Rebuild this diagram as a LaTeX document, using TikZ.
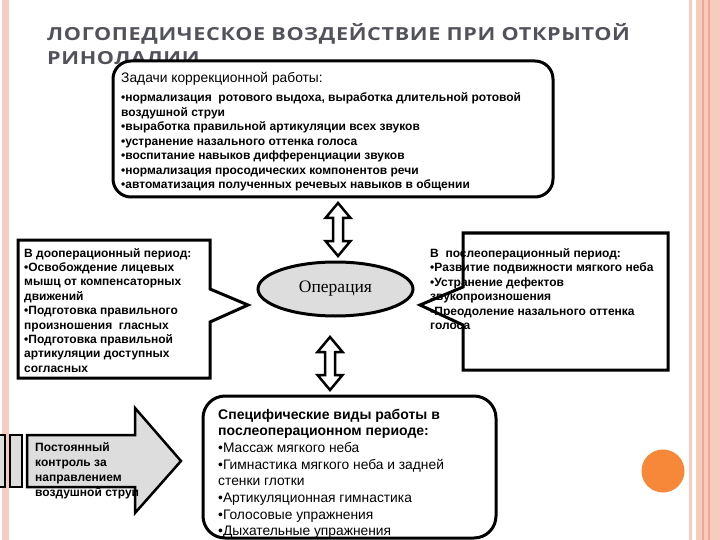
\documentclass[tikz,border=0pt]{standalone}
\usepackage{fontspec}
\setmainfont{Liberation Sans}
\newfontfamily\titlefont[LetterSpace=3]{Open Sans}
\newfontfamily\serifface{Liberation Serif}
\usetikzlibrary{shapes.geometric}
\definecolor{stripe}{RGB}{246,204,190}
\definecolor{stripedark}{RGB}{238,168,148}
\definecolor{titlegray}{RGB}{82,82,90}
\definecolor{dotorange}{RGB}{247,136,58}
\definecolor{fillgray}{RGB}{221,221,221}
\begin{document}
\begin{tikzpicture}[x=1pt,y=-1pt,
  heavy/.style={draw=black,line width=3pt,line join=miter},
  boldtxt/.style={font=\fontsize{12}{13}\selectfont\bfseries,inner sep=0pt,anchor=base west},
  regtxt/.style={font=\fontsize{13.8}{15}\selectfont,inner sep=0pt,anchor=base west},
  bigbold/.style={font=\fontsize{14}{15}\selectfont\bfseries,inner sep=0pt,anchor=base west},
  titletxt/.style={font=\titlefont\fontsize{18}{20}\selectfont\bfseries,text=titlegray,inner sep=0pt,anchor=base west}]
\useasboundingbox (0,0) rectangle (720,540);
\fill[white] (0,0) rectangle (720,540);
% decorative stripes
\fill[stripe] (2,0) rectangle (9,540);
\fill[stripe] (689,0) rectangle (692,540);
\fill[stripe] (696,0) rectangle (720,540);
\fill[stripedark] (702,0) rectangle (703.5,540);
\fill[stripedark] (708,0) rectangle (710,540);
\fill[dotorange] (663,471) circle (21.5);
% title
\node[titletxt] (title1) at (47,40.5) {\scalebox{1.2}[1]{ЛОГОПЕДИЧЕСКОЕ ВОЗДЕЙСТВИЕ ПРИ ОТКРЫТОЙ}};
\node[titletxt] (title2) at (47,64.5) {\scalebox{1.2}[1]{РИНОЛАЛИИ}};
% top box
\draw[heavy,fill=white,rounded corners=18pt] (113,61) rectangle (553,197);
\node[regtxt] (tasks0) at (121,82.5) {Задачи коррекционной работы:};
\foreach \t [count=\i] in {{•нормализация\ \ ротового выдоха, выработка длительной ротовой},
  {воздушной струи},{•выработка правильной артикуляции всех звуков},
  {•устранение назального оттенка голоса},{•воспитание навыков дифференциации звуков},
  {•нормализация просодических компонентов речи},{•автоматизация полученных речевых навыков в общении}}
  \node[boldtxt] (tasks\i) at (121,87.5+14.5*\i) {\t};
% ellipse
\node[ellipse,heavy,fill=fillgray,minimum width=155pt,minimum height=54pt,
  font=\serifface\fontsize{17.5}{20}\selectfont] (op) at (335.5,289) {Операция};
% double arrows
\draw[draw=black,line width=2.5pt,fill=white,line join=miter]
  (338,203) -- (350.5,218) -- (343,218) -- (343,241) -- (350.5,241) -- (338,256)
  -- (325.5,241) -- (333,241) -- (333,218) -- (325.5,218) -- cycle;
\draw[draw=black,line width=2.5pt,fill=white,line join=miter]
  (330,337) -- (342.5,352) -- (335,352) -- (335,375) -- (342.5,375) -- (330,390)
  -- (317.5,375) -- (325,375) -- (325,352) -- (317.5,352) -- cycle;
% left callout
\draw[heavy,fill=white] (18,240) -- (210,240) -- (210,289) -- (248,305) -- (210,322)
  -- (210,378) -- (18,378) -- cycle;
\foreach \t [count=\i] in {{В дооперационный период:},{•Освобождение лицевых},
  {мышц от компенсаторных},{движений},{•Подготовка правильного},
  {произношения\ \ гласных},{•Подготовка правильной},{артикуляции доступных},{согласных}}
  \node[boldtxt] (pre\i) at (24,242.6+14.4*\i) {\t};
% right callout
\draw[heavy,fill=white] (463,233) -- (668,233) -- (668,370) -- (463,370) -- (463,325)
  -- (420,305) -- (463,287) -- cycle;
\foreach \t [count=\i] in {{В\ \ послеоперационный период:},{•Развитие подвижности мягкого неба},
  {•Устранение дефектов},{звукопроизношения},{•Преодоление назального оттенка},{голоса}}
  \node[boldtxt] (post\i) at (430,242.5+14.5*\i) {\t};
% striped block arrow
\draw[draw=black,line width=2pt,fill=fillgray] (-2,435) rectangle (5,487);
\draw[draw=black,line width=2pt,fill=fillgray] (10,435) rectangle (22,487);
\draw[draw=black,line width=2.5pt,fill=fillgray,line join=miter]
  (27,435) -- (135,435) -- (135,408) -- (181,461) -- (135,513) -- (135,487) -- (27,487) -- cycle;
\foreach \t [count=\i] in {{Постоянный},{контроль за},{направлением},{воздушной струи}}
  \node[boldtxt] (ctrl\i) at (35,436+15*\i) {\t};
% bottom box
\draw[heavy,fill=white,rounded corners=22pt] (203,396) rectangle (496,538);
\node[bigbold] (spec1) at (218,419) {Специфические виды работы в};
\node[bigbold] (spec2) at (218,435.7) {послеоперационном периоде:};
\foreach \t [count=\i] in {{•Массаж мягкого неба},{•Гимнастика мягкого неба и задней},
  {стенки глотки},{•Артикуляционная гимнастика},{•Голосовые упражнения},{•Дыхательные упражнения}}
  \node[regtxt] (work\i) at (218,435.7+16.7*\i) {\t};
\end{tikzpicture}
\end{document}
